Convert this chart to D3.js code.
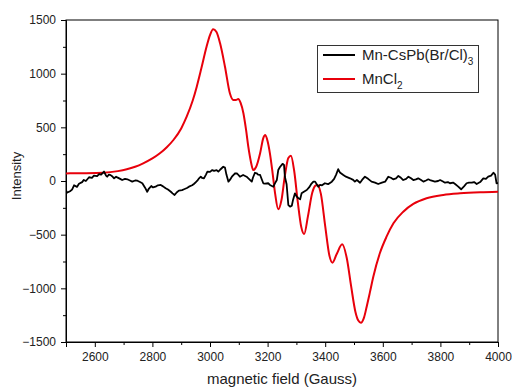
<!DOCTYPE html>
<html>
<head>
<meta charset="utf-8">
<script src="https://cdn.jsdelivr.net/npm/d3@7"></script>
<style>
  html, body { margin: 0; padding: 0; background: #fff; }
  svg { display: block; font-family: "Liberation Sans", Arial, sans-serif; }
</style>
</head>
<body>
<svg id="chart" width="512" height="390"></svg>
<script>
// EPR spectra: field (Gauss) vs. intensity
const fieldTicks = [2600, 2800, 3000, 3200, 3400, 3600, 3800, 4000];
const fieldMinorTicks = [2500, 2700, 2900, 3100, 3300, 3500, 3700, 3900];
const intensityTicks = [-1500, -1000, -500, 0, 500, 1000, 1500];
const intensityMinorTicks = [-1250, -750, -250, 250, 750, 1250];

const seriesNames = ["Mn-CsPb(Br/Cl)", "MnCl"];
const seriesSubscripts = ["3", "2"];
const seriesColors = ["#000000", "#e8000b"];

// Mn-CsPb(Br/Cl)3 : [field, intensity]
const mnCsPb = [
[2500,-85],[2503,-110],[2514,-95],[2521,-80],[2528,-40],[2538,-55],[2545,-25],[2556,-10],[2562,10],[2569,0],[2580,35],[2590,30],[2597,50],[2608,45],[2615,65],[2622,60],[2632,88],[2639,50],[2643,40],[2649,60],[2655,55],[2660,45],[2667,25],[2674,40],[2678,34],[2688,20],[2695,9],[2705,20],[2713,16],[2722,5],[2730,-6],[2740,5],[2748,3],[2757,-10],[2765,-21],[2774,-60],[2782,-100],[2788,-70],[2796,-47],[2802,-60],[2811,-53],[2819,-40],[2829,-37],[2837,-50],[2846,-68],[2854,-80],[2864,-100],[2870,-115],[2877,-130],[2885,-105],[2892,-90],[2903,-85],[2910,-77],[2920,-65],[2927,-53],[2938,-40],[2944,-28],[2951,-10],[2956,3],[2962,25],[2968,40],[2972,30],[2979,25],[2986,60],[2991,87],[3000,85],[3008,102],[3014,95],[3023,102],[3029,87],[3035,105],[3046,133],[3052,125],[3057,60],[3064,-6],[3069,10],[3076,40],[3087,72],[3094,70],[3104,40],[3115,56],[3127,40],[3135,20],[3145,-6],[3149,30],[3156,77],[3162,72],[3167,60],[3174,56],[3185,-21],[3191,-25],[3202,-21],[3208,-37],[3220,-53],[3226,-20],[3232,9],[3237,102],[3243,130],[3252,160],[3257,150],[3260,40],[3266,-30],[3272,-224],[3278,-239],[3284,-230],[3288,-180],[3295,-115],[3300,-140],[3307,-161],[3313,-170],[3318,-115],[3326,-100],[3336,-84],[3344,-60],[3351,-30],[3359,-6],[3365,-6],[3376,-53],[3382,-37],[3389,-40],[3399,-21],[3410,-30],[3423,-6],[3431,20],[3438,60],[3445,110],[3451,80],[3463,56],[3472,40],[3486,25],[3497,10],[3503,-6],[3510,9],[3521,-16],[3528,10],[3538,40],[3549,20],[3561,-6],[3573,-15],[3584,-28],[3597,-15],[3608,-6],[3619,40],[3628,30],[3636,16],[3646,25],[3654,47],[3663,30],[3671,9],[3681,20],[3689,40],[3698,25],[3706,9],[3715,15],[3723,25],[3733,10],[3741,-6],[3750,5],[3758,16],[3767,5],[3781,-6],[3792,0],[3799,9],[3809,-5],[3816,-16],[3826,-10],[3833,-21],[3844,-15],[3851,-28],[3861,-50],[3872,-77],[3882,-50],[3891,-21],[3899,-15],[3909,-16],[3917,-10],[3926,-28],[3938,-10],[3949,25],[3958,20],[3966,40],[3976,50],[3984,77],[3990,60],[3995,-21],[4000,-20]
];

// MnCl2 : [field, intensity]
const mnCl2 = [
[2500,70],[2514,72],[2560,73],[2630,77],[2680,92],[2711,109],[2740,133],[2768,165],[2800,210],[2826,258],[2850,315],[2873,382],[2900,490],[2919,599],[2940,750],[2954,879],[2970,1050],[2988,1251],[3000,1360],[3011,1413],[3022,1390],[3035,1283],[3052,1065],[3069,817],[3081,755],[3090,755],[3098,764],[3106,730],[3116,631],[3125,480],[3133,320],[3142,180],[3150,102],[3160,130],[3174,258],[3185,400],[3192,429],[3200,370],[3208,258],[3218,60],[3226,-115],[3237,-264],[3248,-180],[3260,50],[3272,215],[3281,235],[3292,100],[3305,-200],[3317,-430],[3327,-494],[3340,-330],[3355,-110],[3365,-45],[3373,-37],[3385,-120],[3400,-420],[3415,-700],[3425,-761],[3440,-680],[3459,-590],[3475,-720],[3490,-980],[3505,-1220],[3515,-1300],[3524,-1320],[3535,-1270],[3544,-1171],[3555,-1040],[3567,-892],[3590,-671],[3613,-519],[3637,-394],[3671,-286],[3706,-214],[3752,-161],[3810,-130],[3868,-115],[3938,-105],[4000,-100]
];

const svg = d3.select("#chart");
const plot = { left: 66, right: 498, top: 20, bottom: 342 };

const x = d3.scaleLinear().domain([2500, 4000]).range([plot.left, plot.right]);
const y = d3.scaleLinear().domain([-1500, 1500]).range([plot.bottom, plot.top]);

svg.append("defs").append("clipPath").attr("id", "plotClip")
  .append("rect")
  .attr("x", plot.left).attr("y", plot.top)
  .attr("width", plot.right - plot.left).attr("height", plot.bottom - plot.top);

// frame
svg.append("rect")
  .attr("x", plot.left).attr("y", plot.top)
  .attr("width", plot.right - plot.left).attr("height", plot.bottom - plot.top)
  .attr("fill", "none").attr("stroke", "#000").attr("stroke-width", 1);

// x axis: major + minor ticks
const xAxisG = svg.append("g").attr("transform", `translate(0,${plot.bottom})`)
  .call(d3.axisBottom(x).tickValues(fieldTicks).tickSize(5).tickPadding(5).tickFormat(d3.format("d")));
svg.append("g").attr("transform", `translate(0,${plot.bottom})`)
  .call(d3.axisBottom(x).tickValues(fieldMinorTicks).tickSize(3).tickFormat(""))
  .call(g => g.select(".domain").remove());

// y axis: major + minor ticks
const yAxisG = svg.append("g").attr("transform", `translate(${plot.left},0)`)
  .call(d3.axisLeft(y).tickValues(intensityTicks).tickSize(5).tickPadding(5).tickFormat(d3.format("d")));
svg.append("g").attr("transform", `translate(${plot.left},0)`)
  .call(d3.axisLeft(y).tickValues(intensityMinorTicks).tickSize(3).tickFormat(""))
  .call(g => g.select(".domain").remove());

svg.selectAll(".tick text")
  .attr("font-family", "'Liberation Sans', Arial, sans-serif")
  .attr("font-size", 12).attr("fill", "#222");
svg.selectAll(".tick line, .domain").attr("stroke", "#000");

// axis titles
svg.append("text")
  .attr("x", (plot.left + plot.right) / 2).attr("y", 384)
  .attr("text-anchor", "middle").attr("font-size", 15).attr("fill", "#222")
  .text("magnetic field (Gauss)");
svg.append("text")
  .attr("transform", `translate(21,${(plot.top + plot.bottom) / 2 - 5}) rotate(-90)`)
  .attr("text-anchor", "middle").attr("font-size", 13).attr("fill", "#222")
  .text("Intensity");

// curves
const line = d3.line().x(d => x(d[0])).y(d => y(d[1]));
const plotArea = svg.append("g").attr("clip-path", "url(#plotClip)");

plotArea.append("path").datum(mnCl2)
  .attr("fill", "none").attr("stroke", seriesColors[1]).attr("stroke-width", 2)
  .attr("stroke-linejoin", "round")
  .attr("d", line.curve(d3.curveMonotoneX));

plotArea.append("path").datum(mnCsPb)
  .attr("fill", "none").attr("stroke", seriesColors[0]).attr("stroke-width", 1.8)
  .attr("stroke-linejoin", "round")
  .attr("d", line.curve(d3.curveLinear));

// legend
const legend = svg.append("g");
legend.append("rect")
  .attr("x", 317.5).attr("y", 45.5).attr("width", 161).attr("height", 47)
  .attr("fill", "#fff").attr("stroke", "#333").attr("stroke-width", 1);

seriesNames.forEach((name, i) => {
  const cy = 55 + i * 24;
  legend.append("line")
    .attr("x1", 323).attr("x2", 355).attr("y1", cy).attr("y2", cy)
    .attr("stroke", seriesColors[i]).attr("stroke-width", 2);
  const t = legend.append("text")
    .attr("x", 362).attr("y", cy + 5)
    .attr("font-size", 15).attr("fill", "#222");
  t.append("tspan").text(name);
  t.append("tspan").attr("dy", 5).attr("font-size", 10).text(seriesSubscripts[i]);
});
</script>
</body>
</html>
